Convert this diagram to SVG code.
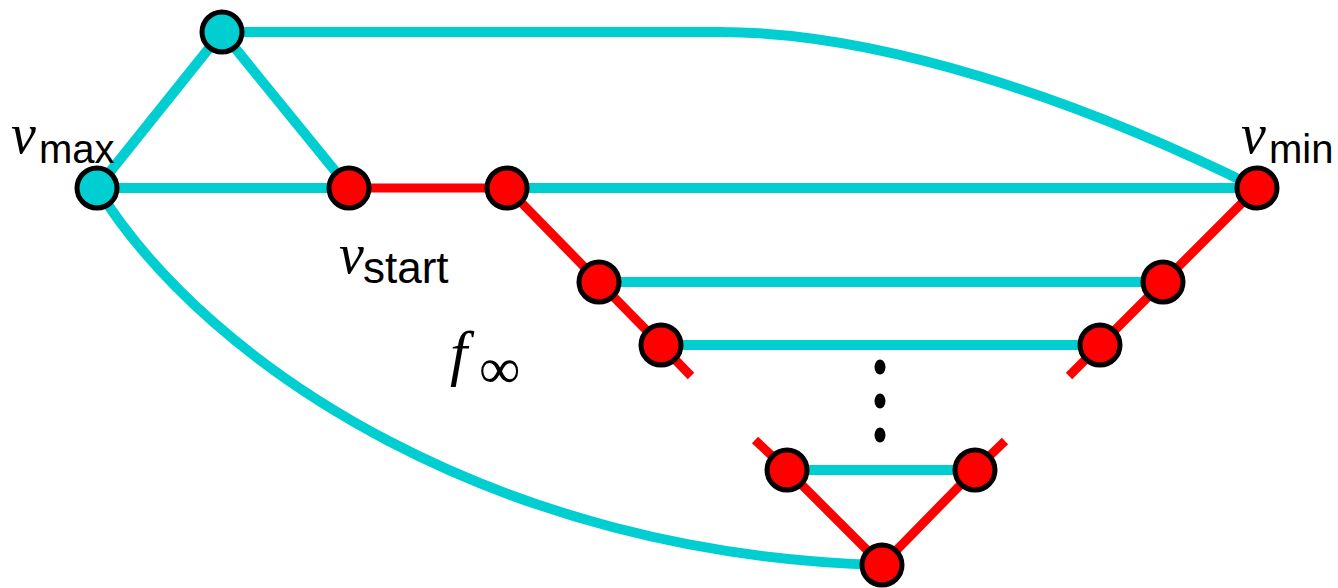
<svg xmlns="http://www.w3.org/2000/svg" width="1338" height="588" viewBox="0 0 1338 588">
<style>
.c{stroke:#00CED1;stroke-width:10;fill:none}
.r{stroke:#FF0000;stroke-width:9;fill:none}
.nc{fill:#00CED1;stroke:#000;stroke-width:5}
.nr{fill:#FF0000;stroke:#000;stroke-width:5}
.mv{font-family:"Liberation Serif",serif;font-style:italic;font-size:56px;fill:#000}
.sub{font-family:"Liberation Sans",Arial,sans-serif;font-size:40px;fill:#000}
</style>
<rect width="1338" height="588" fill="#fff"/>
<g id="connectors">
<path class="c" d="M222,32 L720,32 C880,32 1080,100 1257,188"/>
<path class="c" d="M97,188 C210,370 500,555 882,565"/>
<line class="c" x1="222" y1="32" x2="97" y2="188"/>
<line class="c" x1="222" y1="32" x2="349" y2="188"/>
<line class="c" x1="97" y1="188" x2="349" y2="188"/>
<line class="c" x1="507" y1="188" x2="1257" y2="188"/>
<line class="c" x1="599" y1="282" x2="1163" y2="282"/>
<line class="c" x1="661" y1="345" x2="1100" y2="345"/>
<line class="c" x1="787" y1="470" x2="975" y2="470"/>
<line class="r" x1="349" y1="188" x2="507" y2="188"/>
<polyline class="r" points="507,188 599,282 661,345 691,376"/>
<polyline class="r" points="1257,188 1163,282 1100,345 1069,376"/>
<polyline class="r" points="755,440 787,470 882,565 975,470 1005,441"/>
</g>
<g id="dots" fill="#000">
<ellipse cx="880" cy="367" rx="5.5" ry="7.5"/>
<ellipse cx="880" cy="401" rx="5.5" ry="7.5"/>
<ellipse cx="880" cy="435" rx="5.5" ry="7.5"/>
</g>
<g id="n-top"><circle class="nc" cx="222" cy="32" r="20"/></g>
<g id="n-vmax"><circle class="nc" cx="97" cy="188" r="20"/></g>
<g id="n-vstart"><circle class="nr" cx="349" cy="188" r="20"/></g>
<g id="n-a"><circle class="nr" cx="507" cy="188" r="20"/></g>
<g id="n-vmin"><circle class="nr" cx="1257" cy="188" r="20"/></g>
<g id="n-b1"><circle class="nr" cx="599" cy="282" r="20"/></g>
<g id="n-b2"><circle class="nr" cx="1163" cy="282" r="20"/></g>
<g id="n-c1"><circle class="nr" cx="661" cy="345" r="20"/></g>
<g id="n-c2"><circle class="nr" cx="1100" cy="345" r="20"/></g>
<g id="n-d1"><circle class="nr" cx="787" cy="470" r="20"/></g>
<g id="n-d2"><circle class="nr" cx="975" cy="470" r="20"/></g>
<g id="n-bottom"><circle class="nr" cx="882" cy="565" r="20"/></g>
<g id="labels">
<text class="mv" x="11" y="153">v</text><text class="sub" x="39" y="163">max</text>
<text class="mv" x="1241" y="153">v</text><text class="sub" x="1269" y="163">min</text>
<text class="mv" x="339" y="273">v</text><text class="sub" x="363" y="283" style="font-size:44px">start</text>
<text class="mv" x="450" y="374" style="font-size:62px">f</text><text x="479" y="388" style="font-family:'Liberation Serif',serif;font-size:58px">∞</text>
</g>
</svg>
